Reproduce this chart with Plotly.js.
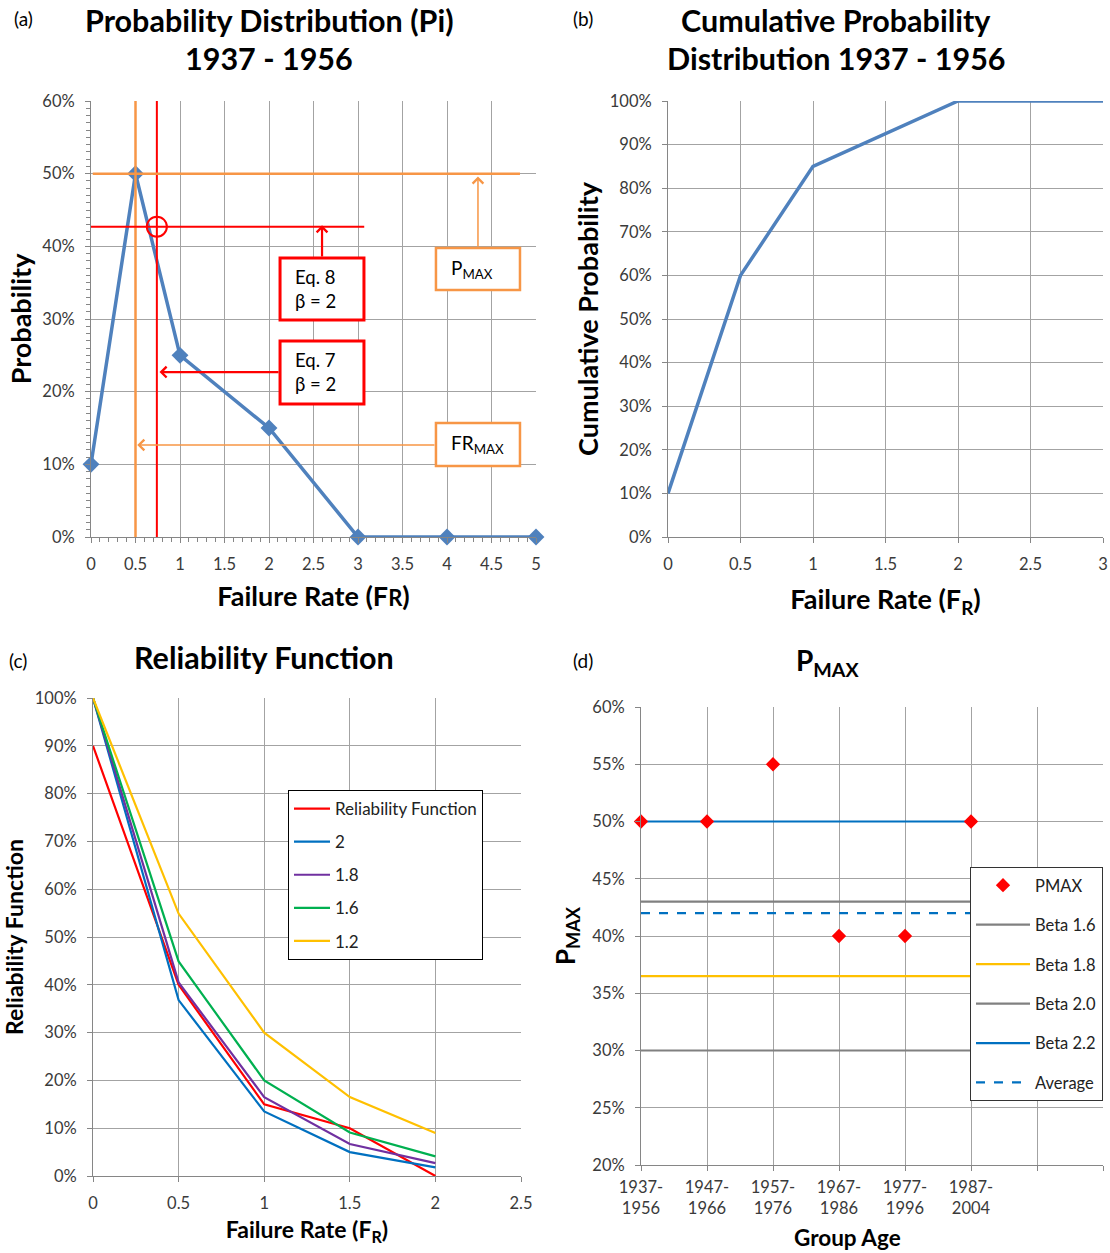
<!DOCTYPE html>
<html><head><meta charset="utf-8">
<script src="https://cdn.plot.ly/plotly-3.0.1.min.js"></script>
<style>html,body{margin:0;padding:0;background:#fff}#chart{width:1110px;height:1253px}</style>
</head><body><div id="chart"></div>
<script>
// ---------- Panel (a): probability distribution ----------
const pdfFR = [0, 0.5, 1, 2, 3, 4, 5];
const pdfP = [0.10, 0.50, 0.25, 0.15, 0.00, 0.00, 0.00];
const pMaxValue = 0.50;     // P_MAX level
const frMaxValue = 0.5;     // FR_MAX position
const eq7FR = 0.74;         // Eq. 7, beta = 2
const eq8P = 0.427;         // Eq. 8, beta = 2
// ---------- Panel (b): cumulative probability ----------
const cdfFR = [0, 0.5, 1, 2, 3];
const cdfP = [0.10, 0.60, 0.85, 1.00, 1.00];
// ---------- Panel (c): reliability function ----------
const relFR = [0, 0.5, 1, 1.5, 2];
const relNames = ['Reliability Function', '2', '1.8', '1.6', '1.2'];
const relFunction = [0.90, 0.40, 0.15, 0.10, 0.00];
const relBeta20 = [1.00, 0.368, 0.135, 0.050, 0.018];
const relBeta18 = [1.00, 0.405, 0.165, 0.067, 0.027];
const relBeta16 = [1.00, 0.449, 0.200, 0.091, 0.041];
const relBeta12 = [1.00, 0.549, 0.300, 0.165, 0.090];
// ---------- Panel (d): P_MAX by group age ----------
const groupAges = ['1937-<br>1956', '1947-<br>1966', '1957-<br>1976', '1967-<br>1986', '1977-<br>1996', '1987-<br>2004'];
const pmaxValues = [0.50, 0.50, 0.55, 0.40, 0.40, 0.50];
const betaLevelNames = ['Beta 1.6', 'Beta 1.8', 'Beta 2.0', 'Beta 2.2', 'Average'];
const betaLevels = [0.43, 0.365, 0.30, 0.50, 0.42];

const FONT = 'Lato, "Open Sans", "DejaVu Sans", sans-serif';
const W = 1110, H = 1253;
const px = v => v / W, py = v => 1 - v / H;

const blueA = '#4F81BD', orange = '#F79646', red = '#FF0000';
const gridC = '#a3a3a3', lineC = '#868686', tickFont = {family: FONT, size: 16.5, color: '#3a3a3a'};

const traces = [];
// (a)
traces.push({x: pdfFR, y: pdfP, xaxis: 'x', yaxis: 'y', mode: 'lines+markers', showlegend: false, cliponaxis: false,
  line: {color: blueA, width: 3.5}, marker: {symbol: 'diamond', size: 13, color: blueA}});
// (b)
traces.push({x: cdfFR, y: cdfP, xaxis: 'x2', yaxis: 'y2', mode: 'lines', showlegend: false,
  line: {color: blueA, width: 3.5}});
// (c)
const relSeries = [relFunction, relBeta20, relBeta18, relBeta16, relBeta12];
const relColors = ['#FF0000', '#0070C0', '#7030A0', '#00B050', '#FFC000'];
relSeries.forEach((s, i) => traces.push({x: relFR, y: s, xaxis: 'x3', yaxis: 'y3', mode: 'lines',
  name: relNames[i], legend: 'legend', legendgroup: 'c' + i, line: {color: relColors[i], width: 2.2}}));
// (d)
const groupPos = groupAges.map((g, i) => i);
const betaColors = ['#808080', '#FFC000', '#808080', '#0070C0', '#0070C0'];
betaLevels.forEach((lv, i) => traces.push({x: groupPos, y: groupPos.map(() => lv), xaxis: 'x4', yaxis: 'y4',
  mode: 'lines', name: betaLevelNames[i], legend: 'legend2', legendgroup: 'd' + (i + 1), legendrank: i + 2,
  line: {color: betaColors[i], width: 2.2, dash: i === 4 ? 'dash' : 'solid'}}));
traces.push({x: groupPos, y: pmaxValues, xaxis: 'x4', yaxis: 'y4', mode: 'markers', name: 'PMAX',
  legend: 'legend2', legendgroup: 'd0', legendrank: 1, cliponaxis: false,
  marker: {symbol: 'diamond', size: 11, color: '#FF0000'}});

function axisBase(extra) {
  return Object.assign({showgrid: true, gridcolor: gridC, gridwidth: 1, showline: true, linecolor: lineC,
    linewidth: 1, ticks: 'outside', ticklen: 5, tickcolor: lineC, zeroline: false, tickfont: tickFont,
    ticklabelstandoff: 7, fixedrange: true}, extra);
}
function axTitle(text, size, standoff) {
  return {text: text, font: {family: FONT, size: size, color: '#000', weight: 'bold'}, standoff: standoff};
}

const layout = {
  width: W, height: H, margin: {l: 0, r: 0, t: 0, b: 0, autoexpand: false},
  paper_bgcolor: '#fff', plot_bgcolor: '#fff', font: {family: FONT},
  xaxis: axisBase({domain: [px(91), px(536)], range: [0, 5], dtick: 0.5, anchor: 'y',
    minor: {dtick: 0.1, ticks: 'outside', ticklen: 4, tickcolor: lineC, showgrid: false},
    title: axTitle('Failure Rate (F<span style="font-size:22px">R</span>)', 27, 14)}),
  yaxis: axisBase({domain: [py(537), py(101)], range: [0, 0.6], dtick: 0.1, tickformat: '.0%', anchor: 'x',
    minor: {dtick: 0.01, ticks: 'outside', ticklen: 4, tickcolor: lineC, showgrid: false},
    title: axTitle('Probability', 27, 2)}),
  xaxis2: axisBase({domain: [px(668), px(1103)], range: [0, 3], dtick: 0.5, anchor: 'y2',
    title: axTitle('Failure Rate (F<sub>R</sub>)', 27, 17)}),
  yaxis2: axisBase({domain: [py(537), py(101)], range: [0, 1], dtick: 0.1, tickformat: '.0%', anchor: 'x2',
    title: axTitle('Cumulative Probability', 27, 3)}),
  xaxis3: axisBase({domain: [px(93), px(521)], range: [0, 2.5], dtick: 0.5, anchor: 'y3',
    title: axTitle('Failure Rate (F<sub>R</sub>)', 23, 10)}),
  yaxis3: axisBase({domain: [py(1176), py(698)], range: [0, 1], dtick: 0.1, tickformat: '.0%', anchor: 'x3',
    title: axTitle('Reliability Function', 23, 13)}),
  xaxis4: axisBase({domain: [px(641), px(1103)], range: [0, 7], anchor: 'y4', tickmode: 'array',
    tickvals: [0, 1, 2, 3, 4, 5], ticktext: groupAges, ticklabelstandoff: 2,
    minor: {dtick: 1, tick0: 0, showgrid: true, gridcolor: gridC, gridwidth: 1, ticks: 'outside', ticklen: 5, tickcolor: lineC}}),
  yaxis4: axisBase({domain: [py(1165), py(707)], range: [0.2, 0.6], dtick: 0.05, tickformat: '.0%', anchor: 'x4',
    title: axTitle('P<sub>MAX</sub>', 26, 9)}),
  legend: {x: px(288), y: py(790), xanchor: 'left', yanchor: 'top', bgcolor: '#fff', bordercolor: '#000',
    borderwidth: 1, font: {family: FONT, size: 17, color: '#222'}, tracegroupgap: 8, itemwidth: 36,
    traceorder: 'grouped'},
  legend2: {x: px(970), y: py(867), xanchor: 'left', yanchor: 'top', bgcolor: '#fff', bordercolor: '#333',
    borderwidth: 1, font: {family: FONT, size: 16.5, color: '#222'}, tracegroupgap: 15, itemwidth: 54,
    traceorder: 'grouped'},
  shapes: [], annotations: []
};

// Panel (a) guide lines and boxes
const S = layout.shapes, A = layout.annotations;
S.push({type: 'line', xref: 'x', yref: 'y', x0: frMaxValue, x1: frMaxValue, y0: 0, y1: 0.6, line: {color: orange, width: 2.5}, layer: 'above'});
S.push({type: 'line', xref: 'x', yref: 'y', x0: eq7FR, x1: eq7FR, y0: 0, y1: 0.6, line: {color: red, width: 2}, layer: 'above'});
S.push({type: 'line', xref: 'x', yref: 'y', x0: 0.02, x1: 4.82, y0: pMaxValue, y1: pMaxValue, line: {color: orange, width: 2.5}, layer: 'above'});
S.push({type: 'line', xref: 'x', yref: 'y', x0: -0.07, x1: 3.07, y0: eq8P, y1: eq8P, line: {color: red, width: 2}, layer: 'above'});
S.push({type: 'circle', xref: 'x', yref: 'y', xsizemode: 'pixel', ysizemode: 'pixel', xanchor: eq7FR, yanchor: eq8P,
  x0: -10, x1: 10, y0: -10, y1: 10, line: {color: red, width: 2}, layer: 'above'});
function box(x0, x1, y0, y1, color, lw) {
  S.push({type: 'rect', xref: 'x', yref: 'y', x0: x0, x1: x1, y0: y0, y1: y1, fillcolor: '#fff', line: {color: color, width: lw}, layer: 'above'});
}
box(2.124, 3.067, 0.2986, 0.384, red, 3);
box(2.124, 3.067, 0.183, 0.2697, red, 3);
box(3.876, 4.82, 0.340, 0.3977, orange, 2.5);
box(3.876, 4.82, 0.0977, 0.157, orange, 2.5);
function arrow(x, y, ax, ay, color, w) {
  A.push({xref: 'x', yref: 'y', axref: 'x', ayref: 'y', x: x, y: y, ax: ax, ay: ay, text: '', showarrow: true,
    arrowhead: 4, arrowsize: 1.6 / w * 1.3, arrowwidth: w, arrowcolor: color});
}
arrow(2.596, eq8P + 0.002, 2.596, 0.384, red, 2.2);
arrow(eq7FR + 0.03, 0.227, 2.124, 0.227, red, 2.2);
arrow(4.348, pMaxValue - 0.004, 4.348, 0.3977, orange, 1.5);
arrow(frMaxValue + 0.02, 0.1266, 3.876, 0.1266, orange, 1.5);
function boxText(x, y, text, size) {
  A.push({xref: 'x', yref: 'y', x: x, y: y, text: text, showarrow: false, xanchor: 'left', yanchor: 'middle', align: 'left',
    font: {family: FONT, size: size, color: '#000'}});
}
boxText(2.27, 0.3415, 'Eq. 8<br>β = 2', 18.5);
boxText(2.27, 0.2265, 'Eq. 7<br>β = 2', 18.5);
boxText(4.02, 0.369, 'P<sub>MAX</sub>', 19);
boxText(4.02, 0.1275, 'FR<sub>MAX</sub>', 19);

// Titles and panel letters
function paperText(x, y, text, size, bold) {
  A.push({xref: 'paper', yref: 'paper', x: px(x), y: py(y), text: text, showarrow: false, xanchor: 'center', yanchor: 'middle',
    font: {family: FONT, size: size, color: '#000', weight: bold ? 'bold' : 'normal'}});
}
paperText(269, 20, 'Probability Distribution (Pi)', 30.5, true);
paperText(269, 58, '1937 - 1956', 30.5, true);
paperText(836, 20, 'Cumulative Probability', 30.5, true);
paperText(836, 58, 'Distribution 1937 - 1956', 30.5, true);
paperText(264, 657, 'Reliability Function', 30.5, true);
paperText(827, 662, 'P<sub>MAX</sub>', 28, true);
paperText(847, 1237, 'Group Age', 22.5, true);
paperText(23, 18, '(a)', 19, false);
paperText(583, 18, '(b)', 19, false);
paperText(18, 660, '(c)', 19, false);
paperText(583, 660, '(d)', 19, false);

Plotly.newPlot('chart', traces, layout, {staticPlot: true, displayModeBar: false});
</script>
</body></html>
